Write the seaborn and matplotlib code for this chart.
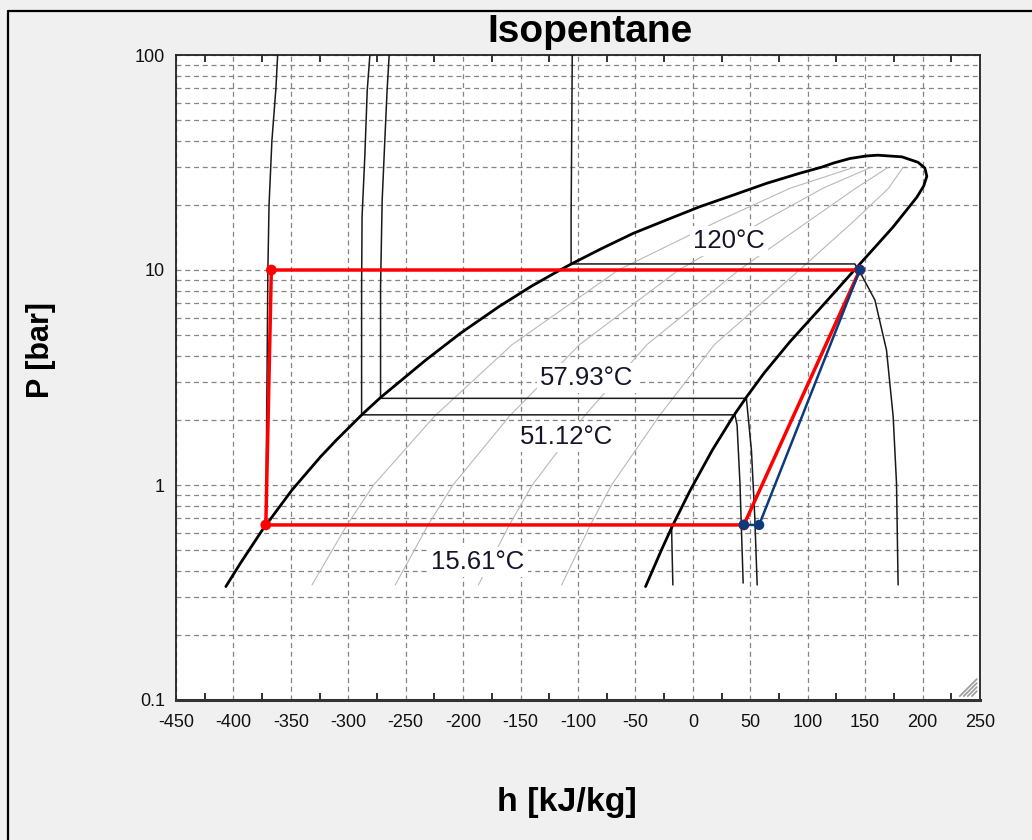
import matplotlib
matplotlib.use("Agg")
import matplotlib.pyplot as plt
from matplotlib.lines import Line2D
from matplotlib.ticker import FixedLocator, FixedFormatter, NullFormatter, LogLocator
import seaborn as sns

# ---- saturation dome of isopentane (h in kJ/kg, P in bar) ----
dome_h = [-406.6, -394.0, -374.8, -349.0, -324.1, -310.3, -287.9, -272.0, -232.6,
          -202.1, -168.9, -141.0, -118.1, -105.8, -79.2, -52.0, -22.9, 6.1, 35.1,
          64.2, 93.2, 112.3, 122.1, 136.7, 150.6, 161.0, 182.0, 196.0, 202.0,
          203.7, 201.0, 195.0, 185.4, 174.1, 159.3, 143.7, 114.6, 84.4, 62.1,
          46.8, 35.5, 17.0, -2.2, -18.1, -27.4, -41.2]
dome_p = [0.337, 0.432, 0.618, 0.948, 1.354, 1.62, 2.13, 2.55, 3.81,
          5.09, 6.75, 8.38, 9.83, 10.67, 12.6, 14.8, 17.1, 19.7, 22.3,
          25.3, 28.2, 30.1, 31.4, 33.0, 33.9, 34.2, 33.6, 31.7, 29.8,
          27.3, 24.6, 21.8, 18.8, 15.8, 12.9, 10.42, 6.98, 4.63, 3.32,
          2.57, 2.10, 1.455, 0.947, 0.64, 0.498, 0.337]

# ---- constant quality lines x = 0.2, 0.4, 0.6, 0.8 ----
quality_p = [0.343, 0.652, 1.0, 2.09, 4.5, 10.0, 17.0, 24.0, 30.0]
quality_h = {
    "0.2": [-331.6, -301.1, -278.0, -224.9, -157.3, -64.9, 23.2, 84.6, 140.0],
    "0.4": [-259.1, -230.5, -208.9, -159.7, -98.6, -12.3, 62.4, 113.2, 155.0],
    "0.6": [-186.7, -159.8, -139.8, -94.6, -39.9, 40.2, 101.6, 141.8, 170.0],
    "0.8": [-114.2, -89.2, -70.8, -29.4, 18.8, 92.8, 140.8, 170.4, 183.0],
}

# ---- isotherms ----
iso_15_h = [-361.5, -363.0, -366.5, -369.0, -370.0, -371.8, -18.5, -18.3, -17.4]
iso_15_p = [100, 70, 40, 20, 10, 0.652, 0.652, 0.55, 0.343]
iso_51_h = [-281.2, -283.5, -285.6, -288.0, -288.4, -288.4, 36.6, 38.5, 41.0, 43.8]
iso_51_p = [100, 68.6, 33.8, 17.7, 8.35, 2.12, 2.12, 1.9, 1.02, 0.35]
iso_58_h = [-264.4, -266.2, -268.2, -270.5, -271.9, -271.9, 46.6, 51.0, 53.9, 56.0]
iso_58_p = [100, 68.6, 40, 21.1, 8.35, 2.53, 2.53, 1.45, 0.712, 0.343]
iso_120_h = [-105.0, -105.5, -106.0, -106.0, 141.0, 146.9, 158.5, 168.6, 174.4, 177.3, 178.7]
iso_120_p = [100, 40, 18, 10.67, 10.67, 9.47, 7.25, 4.24, 2.08, 1.02, 0.343]

iso_labels = ["120°C", "57.93°C", "51.12°C", "15.61°C"]
iso_label_h = [31.3, -92.3, -109.7, -187.2]
iso_label_p = [13.6, 3.15, 1.67, 0.438]

# ---- ORC cycle state points ----
state_h = [-371.8, -367.0, 145.4, 44.4]   # 1 pump in, 2 pump out, 3 turbine in, 4 turbine out
state_p = [0.652, 10.0, 10.0, 0.652]
h4s = 57.7

# ---- axes ----
x_ticks = [-450, -400, -350, -300, -250, -200, -150, -100, -50, 0, 50, 100, 150, 200, 250]
x_minor = [-425, -375, -325, -275, -225, -175, -125, -75, -25, 25, 75, 125, 175, 225]
y_ticks = [0.1, 1, 10, 100]
y_ticklabels = ["0.1", "1", "10", "100"]

sns.set_theme(style="white")
plt.rcParams["font.family"] = ["Liberation Sans", "DejaVu Sans"]

fig = plt.figure(figsize=(10.32, 8.40), dpi=100, facecolor="#f0f0f0")
ax = fig.add_axes([176 / 1032, 1 - 700 / 840, 804 / 1032, 645 / 840])
ax.set_facecolor("white")
ax.set_yscale("log")


def draw(h, p, **kw):
    sns.lineplot(x=h, y=p, sort=False, estimator=None, ax=ax, legend=False, **kw)


for key in quality_h:
    draw(quality_h[key], quality_p, color="#b9b9b9", linewidth=0.8, zorder=2)

for h, p in [(iso_15_h, iso_15_p), (iso_51_h, iso_51_p), (iso_58_h, iso_58_p), (iso_120_h, iso_120_p)]:
    draw(h, p, color="#1a1a1a", linewidth=1.1, zorder=3)

for txt, h, p in zip(iso_labels, iso_label_h, iso_label_p):
    ax.text(h, p, txt, ha="center", va="center", fontsize=18.5, color="#15152a", zorder=4,
            bbox=dict(boxstyle="square,pad=0.12", facecolor="white", edgecolor="none"))

draw(dome_h, dome_p, color="black", linewidth=2.0, zorder=5)

# cycle: red ideal path, blue isentropic expansion
cyc_h = state_h + [state_h[0]]
cyc_p = state_p + [state_p[0]]
draw(cyc_h, cyc_p, color="#ff0000", linewidth=2.5, zorder=6)
draw([state_h[2], h4s, state_h[3]], [state_p[2], state_p[3], state_p[3]],
     color="#0b3b7c", linewidth=1.8, zorder=7)
sns.scatterplot(x=state_h, y=state_p, color="#ff0000", s=60, edgecolor="none", ax=ax, zorder=8, legend=False)
sns.scatterplot(x=[state_h[2], state_h[3], h4s], y=[state_p[2], state_p[3], state_p[3]],
                color="#0b3b7c", s=55, edgecolor="none", ax=ax, zorder=9, legend=False)

ax.set_xlim(-450, 250)
ax.set_ylim(0.1, 100)

ax.xaxis.set_major_locator(FixedLocator(x_ticks))
ax.xaxis.set_major_formatter(FixedFormatter([str(v) for v in x_ticks]))
ax.xaxis.set_minor_locator(FixedLocator(x_minor))
ax.yaxis.set_major_locator(FixedLocator(y_ticks))
ax.yaxis.set_major_formatter(FixedFormatter(y_ticklabels))
ax.yaxis.set_minor_locator(LogLocator(base=10, subs=[2, 3, 4, 5, 6, 7, 8, 9]))
ax.yaxis.set_minor_formatter(NullFormatter())

ax.tick_params(axis="x", which="major", length=0, pad=10, labelsize=13, colors="#111111")
ax.tick_params(axis="x", which="minor", length=5, width=1.3, direction="in",
               top=True, bottom=True, color="#222222")
ax.tick_params(axis="y", which="both", length=0, pad=8, labelsize=13, colors="#111111")

grid_kw = dict(linestyle=(0, (4, 3)), color="#858585", linewidth=0.9)
ax.xaxis.grid(True, which="major", **grid_kw)
ax.yaxis.grid(True, which="both", **grid_kw)
ax.set_axisbelow(True)

for side in ["left", "top", "right"]:
    ax.spines[side].set_color("#222222")
    ax.spines[side].set_linewidth(1.3)
ax.spines["bottom"].set_color("#333333")
ax.spines["bottom"].set_linewidth(2.2)
ax.set_xlabel("")
ax.set_ylabel("")

# resize grip in the lower right corner of the plot
for a in [5, 9, 13, 17]:
    ax.plot([0.996 - a / 804, 0.996], [0.006, 0.006 + a / 645], transform=ax.transAxes,
            color="#a0a0a0", linewidth=1.3, zorder=10, clip_on=False)

fig.text(590 / 1032, 1 - 32 / 840, "Isopentane", ha="center", va="center",
         fontsize=28, fontweight="bold", color="black")
fig.text(41 / 1032, 1 - 350 / 840, "P [bar]", ha="center", va="center", rotation=90,
         fontsize=22, fontweight="bold", color="black")
fig.text(567 / 1032, 1 - 802 / 840, "h [kJ/kg]", ha="center", va="center",
         fontsize=24.5, fontweight="bold", color="black")

# window frame
fig.add_artist(Line2D([8 / 1032, 8 / 1032], [0, 1 - 11 / 840], transform=fig.transFigure,
                      color="black", linewidth=1.6))
fig.add_artist(Line2D([8 / 1032, 1], [1 - 11 / 840, 1 - 11 / 840], transform=fig.transFigure,
                      color="black", linewidth=1.6))

fig.savefig("out.png", dpi=100, facecolor=fig.get_facecolor())
